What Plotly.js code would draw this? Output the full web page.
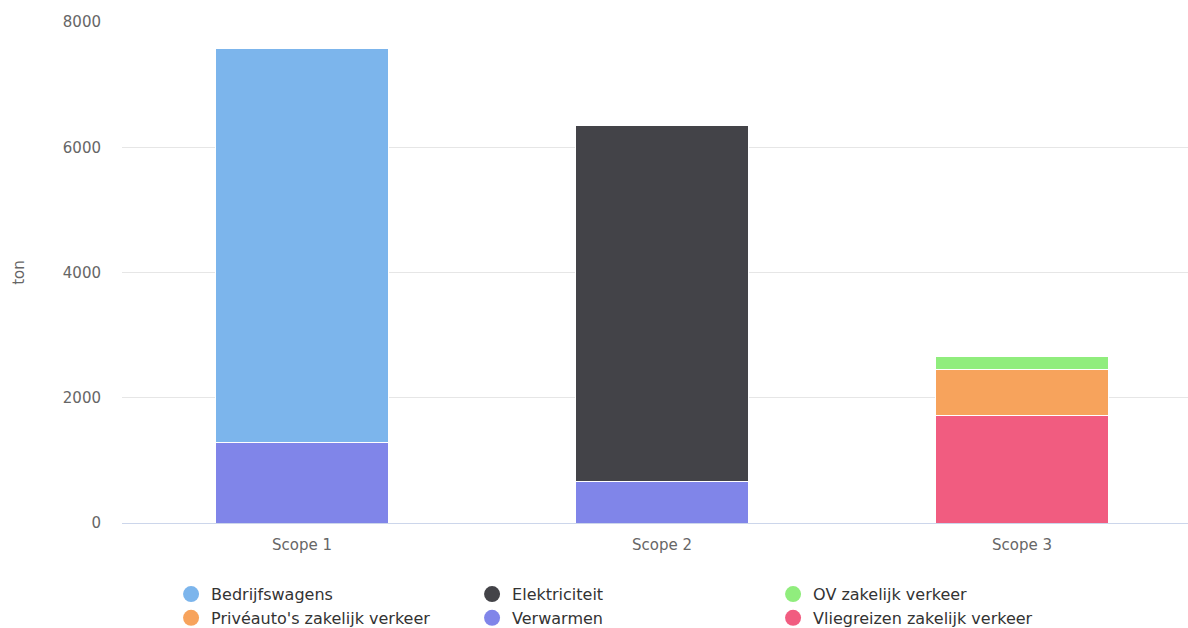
<!DOCTYPE html>
<html>
<head>
<meta charset="utf-8">
<script src="https://cdn.plot.ly/plotly-3.0.1.min.js"></script>
<style>html,body{margin:0;padding:0;background:#fff;}#chart{width:1188px;height:628px;}</style>
</head>
<body>
<div id="chart"></div>
<script>
const categories = ["Scope 1", "Scope 2", "Scope 3"];
const seriesNames = ["Bedrijfswagens", "Elektriciteit", "OV zakelijk verkeer", "Privéauto's zakelijk verkeer", "Verwarmen", "Vliegreizen zakelijk verkeer"];
const bedrijfswagens = [6290, 0, 0];
const elektriciteit = [0, 5680, 0];
const ovZakelijk = [0, 0, 208];
const priveauto = [0, 0, 736];
const verwarmen = [1288, 664, 0];
const vliegreizen = [0, 0, 1720];
const colors = ["#7cb5ec", "#434348", "#90ed7d", "#f7a35c", "#8085e9", "#f15c80"];
const values = [bedrijfswagens, elektriciteit, ovZakelijk, priveauto, verwarmen, vliegreizen];

const traces = [];
// stack from bottom: reverse of legend order
for (let i = seriesNames.length - 1; i >= 0; i--) {
  traces.push({
    type: "bar", x: categories, y: values[i], name: seriesNames[i],
    legendgroup: seriesNames[i], showlegend: false,
    marker: {color: colors[i], line: {color: "#ffffff", width: 1}},
    hoverinfo: "x+y+name"
  });
}
for (let i = 0; i < seriesNames.length; i++) {
  traces.push({
    type: "scatter", mode: "markers", x: [null], y: [null], name: seriesNames[i],
    legendgroup: seriesNames[i], showlegend: true, legendrank: i + 1,
    marker: {color: colors[i], size: 16, symbol: "circle"}
  });
}

const layout = {
  width: 1188, height: 628,
  margin: {l: 122, r: 0, t: 22, b: 105},
  paper_bgcolor: "#ffffff", plot_bgcolor: "#ffffff",
  font: {family: "DejaVu Sans, Verdana, sans-serif", color: "#666666", size: 15},
  barmode: "stack", bargap: 0.52,
  xaxis: {
    type: "category", range: [-0.5, 2.461], showgrid: false,
    showline: true, linecolor: "#ccd6eb", linewidth: 1,
    ticks: "", tickfont: {size: 15, color: "#666666"}, ticklabelstandoff: 8,
    fixedrange: true
  },
  yaxis: {
    range: [0, 8000], tickvals: [0, 2000, 4000, 6000, 8000],
    gridcolor: "#e6e6e6", gridwidth: 1, zeroline: false,
    tickfont: {size: 15, color: "#666666"}, ticklabelstandoff: 20,
    title: {text: "ton", font: {size: 15, color: "#666666"}, standoff: 34}
  },
  showlegend: true,
  legend: {
    orientation: "h", xref: "container", yref: "container",
    x: 0.144, y: 0.081, xanchor: "left", yanchor: "top",
    entrywidth: 256, entrywidthmode: "pixels",
    font: {size: 16, color: "#333333"}, traceorder: "normal",
    itemsizing: "trace", tracegroupgap: 0
  }
};

Plotly.newPlot("chart", traces, layout, {displayModeBar: false, staticPlot: true});
</script>
</body>
</html>
